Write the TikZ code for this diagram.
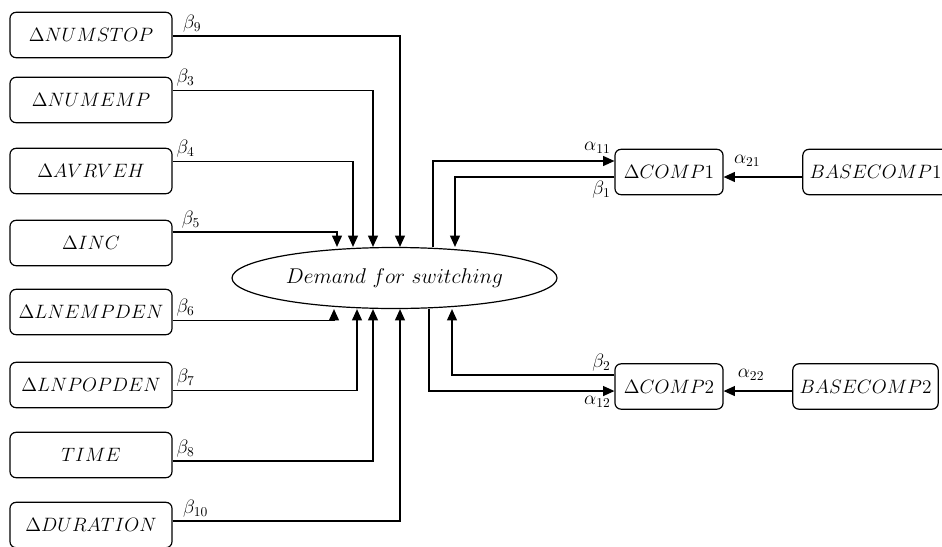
\documentclass[tikz,border=0pt]{standalone}
\usepackage{fix-cm}
\usepackage{amsmath, amssymb}
\usetikzlibrary{arrows.meta, shapes.geometric}

\tikzset{
    varbox/.style={draw, rounded corners=4.5pt, line width=0.9pt, minimum width=121.5pt,
        minimum height=34pt, inner sep=2pt, font=\fontsize{14.5}{17}\selectfont},
    compbox/.style={varbox, minimum width=81pt},
    basebox/.style={varbox, minimum width=109pt},
    coef/.style={above right, inner sep=2.5pt, font=\fontsize{14.5}{17}\selectfont},
    link/.style={line width=0.9pt, -{Triangle[length=8.5pt, width=7.5pt]}}
}

\begin{document}
\begin{tikzpicture}[x=0.75pt, y=-0.75pt]
                \useasboundingbox (0,0) rectangle (942,546);

                \node[ellipse, draw, line width=0.9pt, minimum width=243.75pt, minimum height=45.75pt,
                    inner sep=0pt, font=\fontsize{16}{18}\selectfont] (dem) at (394.5,278) {$Demand\ for\ switching$};

                \foreach \nm/\txt/\y in {numstop/\Delta NUMSTOP/35, numemp/\Delta NUMEMP/100,
                    avrveh/\Delta AVRVEH/171, inc/\Delta INC/243, lnempden/\Delta LNEMPDEN/312,
                    lnpopden/\Delta LNPOPDEN/385, time/TIME/455, duration/\Delta DURATION/525}
                    {
                        \node[varbox] (\nm) at (91,\y) {$\txt$};
                    }

                \node[compbox] (comp1) at (669,172) {$\Delta COMP1$};
                \node[compbox] (comp2) at (669,386.5) {$\Delta COMP2$};
                \node[basebox] (basecomp1) at (875.5,172) {$BASECOMP1$};
                \node[basebox] (basecomp2) at (865.5,386.5) {$BASECOMP2$};

                % regressors entering from above
                \foreach \nm/\dy/\cx/\k/\sx in {numstop/-0.75pt/400/9/5pt, numemp/7pt/373/3/0pt,
                    avrveh/7pt/353/4/0pt, inc/8.25pt/337/5/4pt}
                    {
                        \draw[link] ([yshift=\dy]\nm.east) node[coef, xshift=\sx]{$\beta_{\k}$} -| (\cx,0 |- dem.north);
                    }

                % regressors entering from below
                \foreach \nm/\dy/\cx/\k/\sx in {lnempden/-6.4pt/334/6/0pt, lnpopden/-4.1pt/357/7/0pt,
                    time/-4.5pt/373/8/0pt, duration/3pt/400/10/5pt}
                    {
                        \draw[link] ([yshift=\dy]\nm.east) node[coef, xshift=\sx]{$\beta_{\k}$} -| (\cx,0 |- dem.south);
                    }

                % competition loops
                \draw[link] (433,0 |- dem.north) |- ([yshift=8.25pt]comp1.west)
                    node[coef, above left, yshift=3pt]{$\alpha_{11}$};
                \draw[link] ([yshift=-3.75pt]comp1.west) node[coef, below left]{$\beta_1$} -| (455,0 |- dem.north);
                \draw[link] ([yshift=-3.75pt]basecomp1.west) --
                    node[coef, above=5pt, pos=0.7]{$\alpha_{21}$} ([yshift=-3.75pt]comp1.east);

                \draw[link] ([yshift=8.6pt]comp2.west) node[coef, above left]{$\beta_2$} -| (452,0 |- dem.south);
                \draw[link] (429,0 |- dem.south) |- ([yshift=-3.4pt]comp2.west)
                    node[coef, below left, yshift=-1pt]{$\alpha_{12}$};
                \draw[link] ([yshift=-3.4pt]basecomp2.west) --
                    node[coef, above=5pt, pos=0.6]{$\alpha_{22}$} ([yshift=-3.4pt]comp2.east);
\end{tikzpicture}
\end{document}
